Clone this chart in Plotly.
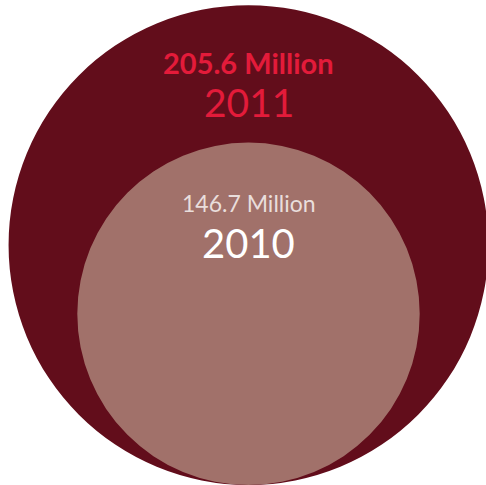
import plotly.graph_objects as go

years = ["2011", "2010"]
values = [205.6, 146.7]          # millions
value_labels = ["205.6 Million", "146.7 Million"]
fill_colors = ["#620d1b", "#a1716a"]
value_colors = ["#e31b3a", "#e9dedc"]
year_colors = ["#e31b3a", "#ffffff"]

W, H = 486, 485
scale = 1.167          # px of radius per million
cx = 248.5
base = 0.0             # circles share a common bottom

fig = go.Figure()
# invisible trace so axes exist
fig.add_trace(go.Scatter(x=[0, W], y=[0, H], mode="markers",
                         marker=dict(opacity=0), hoverinfo="skip", showlegend=False))

for i, v in enumerate(values):
    r = v * scale
    fig.add_shape(type="circle", xref="x", yref="y",
                  x0=cx - r, x1=cx + r, y0=base, y1=base + 2 * r,
                  fillcolor=fill_colors[i], line=dict(width=0), layer="below")

# labels placed relative to the top of each circle
label_specs = [
    # (value label offset from top, value font size, bold, year offset, year size)
    (57, 29, True, 97, 39),
    (60, 23, False, 100, 40),
]
for i, v in enumerate(values):
    top = base + 2 * v * scale
    off_v, size_v, bold, off_y, size_y = label_specs[i]
    txt = f"<b>{value_labels[i]}</b>" if bold else value_labels[i]
    fig.add_annotation(x=cx, y=top - off_v, xref="x", yref="y", text=txt,
                       showarrow=False, xanchor="center", yanchor="middle",
                       font=dict(family="Lato", size=size_v, color=value_colors[i]))
    fig.add_annotation(x=cx, y=top - off_y, xref="x", yref="y", text=years[i],
                       showarrow=False, xanchor="center", yanchor="middle",
                       font=dict(family="Lato", size=size_y, color=year_colors[i]))

fig.update_layout(
    width=W, height=H,
    margin=dict(l=0, r=0, t=0, b=0),
    paper_bgcolor="white", plot_bgcolor="white",
    xaxis=dict(range=[0, W], visible=False, fixedrange=True),
    yaxis=dict(range=[0, H], visible=False, fixedrange=True),
    showlegend=False,
)
fig.write_html("out.html", config={"displayModeBar": False},
               post_script="document.body.style.margin='0';document.body.style.overflow='hidden';")
